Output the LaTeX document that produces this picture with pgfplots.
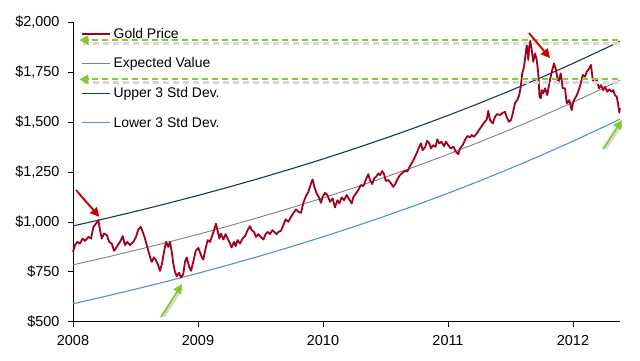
\documentclass[border=0pt]{standalone}
\usepackage{fontspec}
\setmainfont{Liberation Sans}
\usepackage{pgfplots}
\pgfplotsset{compat=1.18}
\usetikzlibrary{arrows.meta}
\definecolor{goldred}{RGB}{160,0,30}
\definecolor{evgray}{RGB}{128,128,128}
\definecolor{upblue}{RGB}{23,55,94}
\definecolor{lowblue}{RGB}{85,142,213}
\definecolor{agreen}{RGB}{128,204,40}
\definecolor{ared}{RGB}{204,0,0}
\definecolor{shadowgray}{RGB}{215,215,215}
\begin{document}
\begin{tikzpicture}
\path[use as bounding box] (-73bp,-39.3bp) rectangle (567bp,321.7bp);
\begin{axis}[
  at={(0,0)}, anchor=south west,
  scale only axis, width=547bp, height=299.2bp,
  xmin=2008, xmax=2012.376, ymin=500, ymax=2000,
  axis x line*=bottom, axis y line*=left,
  axis line style={-, line width=0.8bp},
  xtick={2008,2009,2010,2011,2012},
  ytick={500,750,...,2000},
  tick align=outside,
  major tick length=5bp,
  tick style={black, line width=0.8bp},
  /pgf/number format/assume math mode=true,
  xticklabel style={/pgf/number format/1000 sep={}, yshift=-5bp},
  yticklabel style={xshift=-5bp},
  yticklabel={\$\pgfmathprintnumber[1000 sep={,}]{\tick}},
  ticklabel style={font=\fontsize{14.5}{17}\selectfont},
  clip=false,
  legend style={at={(axis description cs:0.014,0.988)}, anchor=north west,
    draw=none, fill=none, inner sep=0pt, row sep=14bp,
    font=\fontsize{14}{16}\selectfont, cells={anchor=west}},
  legend image code/.code={\draw[#1] (0bp,0bp) -- (28bp,0bp);},
]
\addlegendimage{goldred, line width=2.8bp}
\addlegendentry{Gold Price}
\addlegendimage{evgray, line width=0.9bp}
\addlegendentry{Expected Value}
\addlegendimage{upblue, line width=1.1bp}
\addlegendentry{Upper 3 Std Dev.}
\addlegendimage{lowblue, line width=1.1bp}
\addlegendentry{Lower 3 Std Dev.}

% Expected value
\addplot[evgray, line width=0.9bp, forget plot] coordinates {
(2008.00,785.0) (2008.25,820.7) (2008.50,858.1) (2008.75,897.1) (2009.00,937.9)
(2009.25,980.6) (2009.50,1025.2) (2009.75,1071.9) (2010.00,1120.7) (2010.25,1171.7)
(2010.50,1225.0) (2010.75,1280.7) (2011.00,1339.0) (2011.25,1400.0) (2011.50,1463.7)
(2011.75,1530.3) (2012.00,1599.9) (2012.25,1672.7) (2012.376,1710.6)};
% Upper
\addplot[upblue, line width=1.1bp, forget plot] coordinates {
(2008.00,980.0) (2008.25,1015.7) (2008.50,1053.1) (2008.75,1092.1) (2009.00,1132.9)
(2009.25,1175.6) (2009.50,1220.2) (2009.75,1266.9) (2010.00,1315.7) (2010.25,1366.7)
(2010.50,1420.0) (2010.75,1475.7) (2011.00,1534.0) (2011.25,1595.0) (2011.50,1658.7)
(2011.75,1725.3) (2012.00,1794.9) (2012.25,1867.7) (2012.376,1905.6)};
% Lower
\addplot[lowblue, line width=1.1bp, forget plot] coordinates {
(2008.00,590.0) (2008.25,625.7) (2008.50,663.1) (2008.75,702.1) (2009.00,742.9)
(2009.25,785.6) (2009.50,830.2) (2009.75,876.9) (2010.00,925.7) (2010.25,976.7)
(2010.50,1030.0) (2010.75,1085.7) (2011.00,1144.0) (2011.25,1205.0) (2011.50,1268.7)
(2011.75,1335.3) (2012.00,1404.9) (2012.25,1477.7) (2012.376,1515.6)};
% Gold price
\addplot[goldred, line width=1.8bp, line join=round, forget plot] coordinates {
(2008.000,850) (2008.016,884) (2008.035,900) (2008.056,892) (2008.077,917) (2008.096,905)
(2008.123,925) (2008.145,917) (2008.163,975) (2008.184,992) (2008.203,1009) (2008.216,959)
(2008.230,917) (2008.248,942) (2008.270,934) (2008.290,900) (2008.310,892) (2008.328,855)
(2008.350,875) (2008.376,900) (2008.398,929) (2008.416,884) (2008.434,900) (2008.456,884)
(2008.482,900) (2008.504,925) (2008.522,962) (2008.542,976) (2008.558,950) (2008.576,917)
(2008.594,875) (2008.616,825) (2008.630,800) (2008.648,822) (2008.664,808) (2008.682,783)
(2008.696,755) (2008.712,792) (2008.728,850) (2008.744,900) (2008.762,875) (2008.776,900)
(2008.790,850) (2008.802,792) (2008.816,750) (2008.830,728) (2008.848,745) (2008.864,722)
(2008.882,738) (2008.896,800) (2008.910,822) (2008.928,778) (2008.944,755) (2008.962,800)
(2008.982,855) (2009.003,870) (2009.029,825) (2009.042,812) (2009.061,867) (2009.077,909)
(2009.096,900) (2009.109,922) (2009.128,959) (2009.144,992) (2009.157,956) (2009.171,917)
(2009.184,942) (2009.203,912) (2009.221,939) (2009.237,917) (2009.256,892) (2009.269,872)
(2009.288,900) (2009.301,879) (2009.317,909) (2009.336,892) (2009.357,917) (2009.376,929)
(2009.397,959) (2009.416,979) (2009.429,959) (2009.448,950) (2009.464,925) (2009.482,939)
(2009.501,925) (2009.523,912) (2009.541,939) (2009.557,950) (2009.576,939) (2009.595,959)
(2009.610,950) (2009.629,939) (2009.643,950) (2009.664,956) (2009.683,984) (2009.701,1013)
(2009.723,1001) (2009.744,1026) (2009.765,1046) (2009.784,1063) (2009.803,1051) (2009.824,1046)
(2009.843,1096) (2009.861,1126) (2009.883,1151) (2009.904,1193) (2009.917,1213) (2009.931,1176)
(2009.949,1143) (2009.968,1123) (2009.984,1096) (2009.997,1126) (2010.016,1146) (2010.035,1135)
(2010.056,1101) (2010.077,1118) (2010.096,1073) (2010.115,1109) (2010.131,1093) (2010.149,1123)
(2010.168,1109) (2010.190,1135) (2010.210,1113) (2010.230,1093) (2010.242,1123) (2010.264,1143)
(2010.282,1160) (2010.302,1185) (2010.323,1180) (2010.342,1210) (2010.362,1240) (2010.376,1210)
(2010.394,1190) (2010.408,1218) (2010.424,1226) (2010.442,1243) (2010.456,1235) (2010.474,1255)
(2010.488,1240) (2010.502,1206) (2010.522,1210) (2010.542,1196) (2010.562,1176) (2010.578,1190)
(2010.594,1213) (2010.616,1235) (2010.637,1247) (2010.656,1257) (2010.674,1252) (2010.696,1280)
(2010.717,1302) (2010.736,1327) (2010.754,1352) (2010.770,1377) (2010.784,1394) (2010.797,1360)
(2010.816,1374) (2010.834,1407) (2010.850,1394) (2010.864,1369) (2010.882,1385) (2010.901,1377)
(2010.914,1414) (2010.930,1394) (2010.949,1402) (2010.968,1380) (2010.984,1402) (2011.002,1385)
(2011.021,1369) (2011.043,1377) (2011.064,1352) (2011.083,1340) (2011.096,1369) (2011.117,1385)
(2011.136,1410) (2011.155,1431) (2011.176,1424) (2011.189,1436) (2011.208,1427) (2011.230,1444)
(2011.248,1461) (2011.270,1481) (2011.288,1497) (2011.310,1514) (2011.322,1557) (2011.336,1511)
(2011.358,1494) (2011.376,1527) (2011.394,1541) (2011.416,1536) (2011.437,1547) (2011.456,1552)
(2011.470,1524) (2011.488,1502) (2011.504,1511) (2011.518,1544) (2011.536,1595) (2011.554,1611)
(2011.570,1636) (2011.582,1678) (2011.594,1745) (2011.608,1778) (2011.618,1828) (2011.630,1887)
(2011.638,1854) (2011.642,1812) (2011.650,1879) (2011.658,1908) (2011.670,1862) (2011.682,1803)
(2011.696,1845) (2011.710,1812) (2011.722,1745) (2011.732,1628) (2011.742,1620) (2011.750,1661)
(2011.762,1645) (2011.776,1670) (2011.794,1636) (2011.810,1695) (2011.830,1753) (2011.848,1795)
(2011.864,1762) (2011.882,1695) (2011.902,1745) (2011.918,1670) (2011.936,1670) (2011.950,1595)
(2011.970,1611) (2011.990,1561) (2012.002,1603) (2012.024,1628) (2012.042,1653) (2012.062,1695)
(2012.078,1737) (2012.096,1728) (2012.110,1753) (2012.130,1770) (2012.144,1787) (2012.158,1712)
(2012.176,1695) (2012.190,1712) (2012.208,1670) (2012.224,1686) (2012.242,1661) (2012.256,1678)
(2012.274,1653) (2012.290,1665) (2012.310,1653) (2012.322,1661) (2012.336,1636) (2012.350,1628)
(2012.362,1586) (2012.370,1548) (2012.376,1570)};

% dashed green level lines with shadows
\draw[shadowgray, line width=3bp, dash pattern=on 6bp off 4bp, shift={(1bp,-3bp)}]
  (axis cs:2012.36,1912) -- (axis cs:2008.07,1912);
\draw[shadowgray, line width=3bp, dash pattern=on 6bp off 4bp, shift={(1bp,-3bp)}]
  (axis cs:2012.36,1715) -- (axis cs:2008.07,1715);
\draw[agreen, line width=2bp, dash pattern=on 6bp off 4bp, -{Triangle[length=9bp,width=9bp]}]
  (axis cs:2012.36,1912) -- (axis cs:2008.05,1912);
\draw[agreen, line width=2bp, dash pattern=on 6bp off 4bp, -{Triangle[length=9bp,width=9bp]}]
  (axis cs:2012.36,1715) -- (axis cs:2008.05,1715);

% arrows with light shadows
\draw[shadowgray, line width=2.2bp, shift={(1.5bp,-2bp)}] (axis cs:2008.04,1150) -- (axis cs:2008.19,1040);
\draw[ared, line width=1.8bp, -{Triangle[length=9bp,width=9bp]}] (axis cs:2008.024,1160) -- (axis cs:2008.21,1026);
\draw[shadowgray, line width=2.2bp, shift={(1.5bp,-2bp)}] (axis cs:2011.66,1938) -- (axis cs:2011.80,1835);
\draw[ared, line width=1.8bp, -{Triangle[length=9bp,width=9bp]}] (axis cs:2011.648,1947) -- (axis cs:2011.816,1822);
\draw[shadowgray, line width=2.2bp, shift={(1.5bp,-2bp)}] (axis cs:2008.715,535) -- (axis cs:2008.86,675);
\draw[agreen, line width=1.8bp, -{Triangle[length=9bp,width=9bp]}] (axis cs:2008.704,523) -- (axis cs:2008.872,688);
\draw[shadowgray, line width=2.2bp, shift={(1.5bp,-2bp)}] (axis cs:2012.25,1375) -- (axis cs:2012.38,1500);
\draw[agreen, line width=1.8bp, -{Triangle[length=9bp,width=9bp]}] (axis cs:2012.24,1365) -- (axis cs:2012.392,1511);
\end{axis}
\end{tikzpicture}
\end{document}
